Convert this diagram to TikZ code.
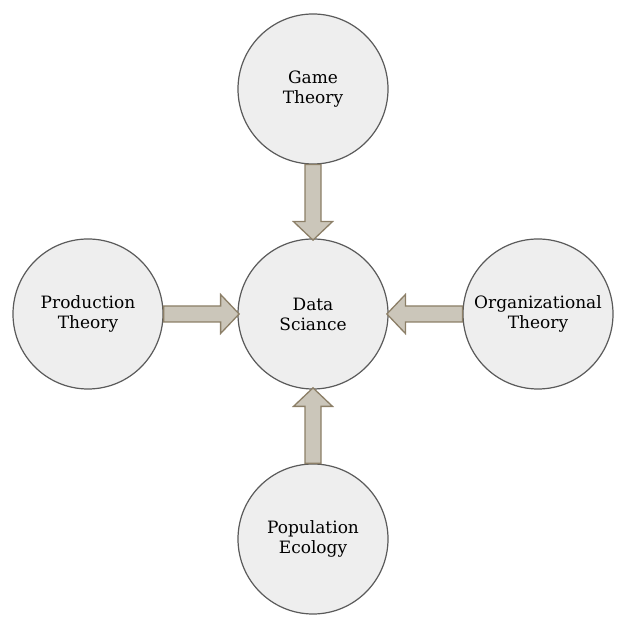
\documentclass[tikz,border=0pt]{standalone}
\usepackage{fontspec}
\setmainfont{DejaVu Serif}
\definecolor{circfill}{HTML}{EEEEEE}
\definecolor{circline}{HTML}{5A5A5A}
\definecolor{arrfill}{HTML}{CBC6BA}
\definecolor{arrline}{HTML}{8C7F67}
\tikzset{
  topic/.style={circle, draw=circline, fill=circfill, line width=1.2pt, minimum size=150pt, inner sep=0pt, align=center, font=\fontsize{17}{20}\selectfont},
  fatarrow/.style={draw=arrline, fill=arrfill, line width=1.3pt, line join=miter}
}
\newcommand\fatarr[2]{%
  \draw[fatarrow, shift={(#1)}, rotate=#2] (0,-8) -- (57,-8) -- (57,-19.5) -- (75.5,0) -- (57,19.5) -- (57,8) -- (0,8) -- cycle;}
\begin{document}
\begin{tikzpicture}[x=1pt,y=1pt]
\useasboundingbox (0,0) rectangle (626,628);
\node[topic] (game) at (313,539) {Game\\Theory};
\node[topic] (prod) at (88,314) {Production\\Theory};
\node[topic] (ds) at (313,314) {Data\\Sciance};
\node[topic] (org) at (538,314) {Organizational\\Theory};
\node[topic] (pop) at (313,89) {Population\\Ecology};
\fatarr{game.south}{-90}
\fatarr{prod.east}{0}
\fatarr{org.west}{180}
\fatarr{pop.north}{90}
\end{tikzpicture}
\end{document}
